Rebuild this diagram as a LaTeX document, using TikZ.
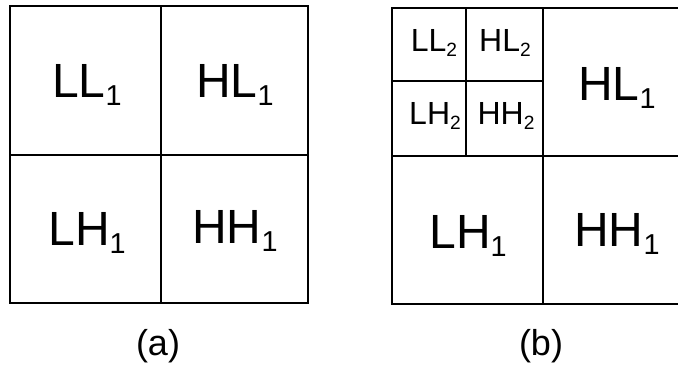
\documentclass[tikz,border=0pt]{standalone}
\usepackage{fontspec}
\setmainfont{Liberation Sans}
\newcommand\subsc[1]{\raisebox{-0.17em}{\scalebox{0.6}{#1}}}
\tikzset{
  gridline/.style={line width=2.2pt, line cap=rect},
  bigtext/.style={anchor=base, inner sep=0pt, font=\fontsize{48}{50}\selectfont},
  smalltext/.style={anchor=base, inner sep=0pt, font=\fontsize{32}{34}\selectfont},
  captiontext/.style={anchor=base, inner sep=0pt, font=\fontsize{36}{38}\selectfont}
}
\begin{document}
\begin{tikzpicture}[x=1pt, y=-1pt]
\useasboundingbox (0,0) rectangle (678,367);
% (a)
\draw[gridline] (10,6) rectangle (308,303);
\draw[gridline] (161,6) -- (161,303);
\draw[gridline] (10,155) -- (308,155);
\node[bigtext] (a1) at (87,97) {LL\subsc{1}};
\node[bigtext] (a2) at (235,97) {HL\subsc{1}};
\node[bigtext] (a3) at (87,245) {LH\subsc{1}};
\node[bigtext] (a4) at (235,243) {HH\subsc{1}};
\node[captiontext] (ca) at (158,355) {(a)};
% (b)
\begin{scope}
\clip (0,0) rectangle (678,367);
\draw[gridline] (392,8) rectangle (690,304);
\end{scope}
\draw[gridline] (543,8) -- (543,304);
\draw[gridline] (392,156) -- (678,156);
\draw[gridline] (466,8) -- (466,156);
\draw[gridline] (392,81) -- (543,81);
\node[smalltext] (b1) at (434,51.5) {LL\subsc{2}};
\node[smalltext] (b2) at (505,51.5) {HL\subsc{2}};
\node[smalltext] (b3) at (435,124.5) {LH\subsc{2}};
\node[smalltext] (b4) at (506,124.5) {HH\subsc{2}};
\node[bigtext] (b5) at (617,100) {HL\subsc{1}};
\node[bigtext] (b6) at (468,248) {LH\subsc{1}};
\node[bigtext] (b7) at (617,246) {HH\subsc{1}};
\node[captiontext] (cb) at (541,355) {(b)};
\end{tikzpicture}
\end{document}
